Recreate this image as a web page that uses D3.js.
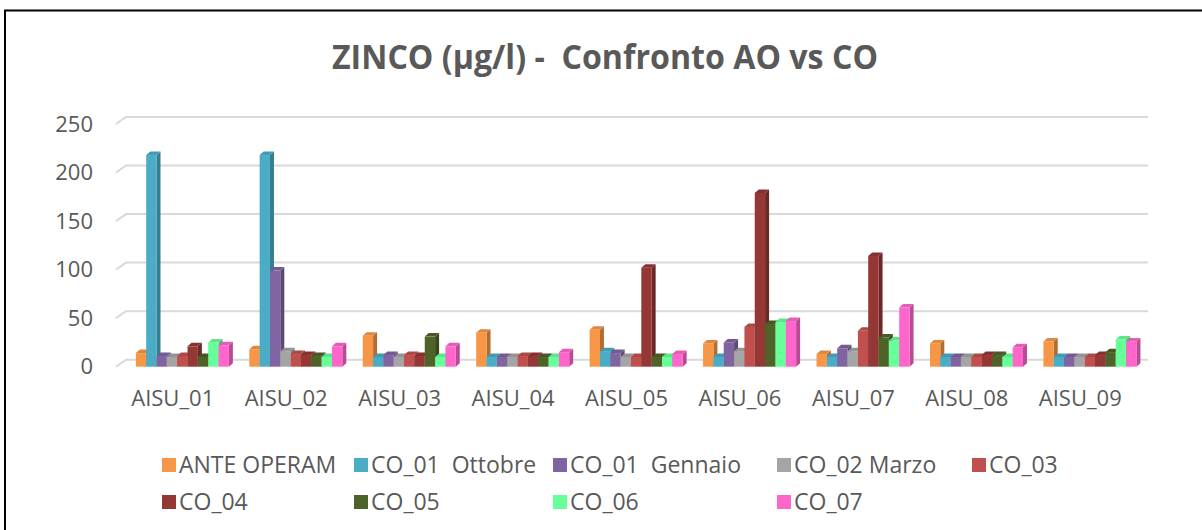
<!DOCTYPE html>
<meta charset="utf-8">
<script src="https://d3js.org/d3.v7.min.js"></script>
<style>
  body { margin: 0; background: #fff; }
  text { font-family: "Open Sans", sans-serif; fill: #595959; white-space: pre; }
</style>
<div id="chart"></div>
<script>
    // data
    var categories = ["AISU_01", "AISU_02", "AISU_03", "AISU_04", "AISU_05", "AISU_06", "AISU_07", "AISU_08", "AISU_09"];
    var seriesNames = ["ANTE OPERAM", "CO_01  Ottobre", "CO_01  Gennaio", "CO_02 Marzo", "CO_03", "CO_04", "CO_05", "CO_06", "CO_07"];
    var anteOperam  = [14, 18, 32, 35, 38, 24, 13, 24, 26];
    var co01Ottobre = [218, 218, 10, 10, 16, 10, 10, 10, 10];
    var co01Gennaio = [11, 99, 12, 10, 14, 25, 19, 10, 10];
    var co02Marzo   = [10, 16, 10, 10, 10, 16, 16, 10, 10];
    var co03        = [11, 13, 12, 11, 10, 41, 37, 10, 10];
    var co04        = [21, 12, 11, 11, 102, 179, 114, 12, 12];
    var co05        = [10, 11, 31, 10, 10, 44, 30, 12, 15];
    var co06        = [25, 10, 10, 10, 10, 46, 27, 10, 28];
    var co07        = [22, 21, 21, 15, 13, 47, 61, 20, 26];
    var yTicks = [0, 50, 100, 150, 200, 250];
    var colors = ["#F79646", "#4BACC6", "#8064A2", "#A5A5A5", "#C0504D", "#953735", "#4F6228", "#66FF99", "#FF66CC"];

    var allValues = [anteOperam, co01Ottobre, co01Gennaio, co02Marzo, co03, co04, co05, co06, co07];

    var W = 1202, H = 530;
    var svg = d3.select("#chart").append("svg")
        .attr("width", W).attr("height", H);

    // frame (only top and left edges show in the crop)
    svg.append("path")
        .attr("d", "M5,531 L5,10.5 L1203,10.5")
        .attr("fill", "none").attr("stroke", "#000").attr("stroke-width", 2);

    // title
    svg.append("text")
        .attr("x", 605).attr("y", 69)
        .attr("text-anchor", "middle")
        .attr("textLength", 546).attr("lengthAdjust", "spacingAndGlyphs")
        .style("font-size", "34px").style("font-weight", "bold")
        .text("ZINCO (\u00b5g/l) -  Confronto AO vs CO");

    // scales
    var y = d3.scaleLinear().domain([0, 250]).range([366.7, 124]);
    var x0 = d3.scaleBand().domain(categories).range([116, 1137]);
    var bw = x0.bandwidth();
    var x1 = d3.scaleBand().domain(seriesNames).range([0.175 * bw, 0.995 * bw]);

    // 3d offsets
    var wallDx = 10, wallDy = 7;   // floor depth
    var barDx = 4, barDy = 3.5;    // bar depth

    // gridlines on back wall with slanted stub
    var grid = svg.append("g");
    yTicks.forEach(function(t) {
        grid.append("path")
            .attr("d", "M116," + y(t) + " L" + (116 + wallDx) + "," + (y(t) - wallDy) + " L1148," + (y(t) - wallDy))
            .attr("fill", "none").attr("stroke", "#d9d9d9").attr("stroke-width", 2);
    });

    // y axis labels
    var yAxis = svg.append("g")
        .attr("transform", "translate(96,0)")
        .call(d3.axisLeft(y).tickValues(yTicks).tickSize(0).tickPadding(3));
    yAxis.select(".domain").remove();
    yAxis.selectAll("text").style("font-size", "22px").attr("fill", "#595959");

    // x axis labels
    var xAxis = svg.append("g")
        .attr("transform", "translate(0,390)")
        .call(d3.axisBottom(x0).tickSize(0).tickPadding(0));
    xAxis.select(".domain").remove();
    xAxis.selectAll("text").style("font-size", "22px").attr("fill", "#595959");

    // bars: front, top and side faces
    var bars = svg.append("g");
    categories.forEach(function(cat, ci) {
        seriesNames.forEach(function(name, si) {
            var v = allValues[si][ci];
            var c = colors[si];
            var xl = x0(cat) + x1(name), w = x1.bandwidth();
            var yt = y(v), yb = y(0);
            var g = bars.append("g");
            g.append("path")
                .attr("d", "M" + (xl + w) + "," + yt + " L" + (xl + w + barDx) + "," + (yt - barDy) +
                    " L" + (xl + w + barDx) + "," + (yb - barDy) + " L" + (xl + w) + "," + yb + "Z")
                .attr("fill", d3.color(c).darker(0.9));
            g.append("path")
                .attr("d", "M" + xl + "," + yt + " L" + (xl + w) + "," + yt +
                    " L" + (xl + w + barDx) + "," + (yt - barDy) + " L" + (xl + barDx) + "," + (yt - barDy) + "Z")
                .attr("fill", d3.color(c).darker(0.3));
            g.append("rect")
                .attr("x", xl).attr("y", yt)
                .attr("width", w).attr("height", yb - yt)
                .attr("fill", c);
        });
    });

    // legend
    var legX = [162, 354, 553, 777, 972];
    var legY = [473, 510];
    var legend = svg.append("g");
    seriesNames.forEach(function(name, i) {
        var row = i < 5 ? 0 : 1, col = i < 5 ? i : i - 5;
        legend.append("rect")
            .attr("x", legX[col]).attr("y", legY[row] - 15)
            .attr("width", 14).attr("height", 14)
            .attr("fill", colors[i]);
        legend.append("text")
            .attr("x", legX[col] + 17).attr("y", legY[row])
            .style("font-size", "23px")
            .text(name);
    });
</script>
